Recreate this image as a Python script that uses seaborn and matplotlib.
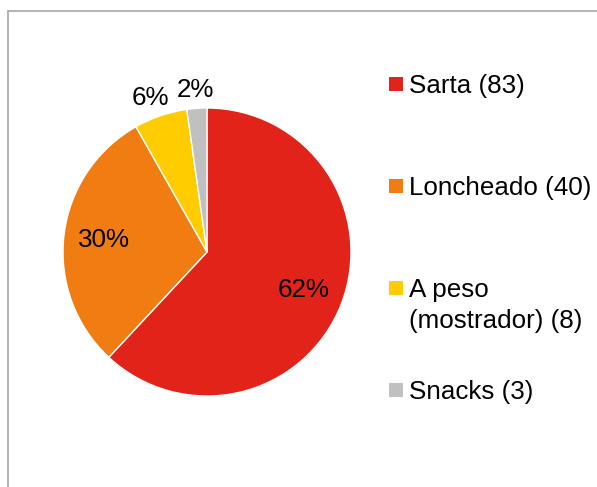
import numpy as np
import pandas as pd
import seaborn as sns
import matplotlib.pyplot as plt
from matplotlib.lines import Line2D

# Data
categories = ["Sarta", "Loncheado", "A peso\n(mostrador)", "Snacks"]
counts = [83, 40, 8, 3]
colors = ["#E2231A", "#F07C12", "#FFCC00", "#C0C0C0"]

sns.set_style("white")
plt.rcParams['font.family'] = ['Liberation Sans', 'DejaVu Sans']
FS = 18.7

W, H = 597, 487
fig = plt.figure(figsize=(W / 100, H / 100), dpi=100)

# Pie axes: centre (207, 252) px, radius 144 px
cx, cy, r = 207, 252, 144
ax = fig.add_axes([(cx - r) / W, (H - cy - r) / H, 2 * r / W, 2 * r / H])
wedges, _, autotexts = ax.pie(counts, colors=colors, startangle=90, counterclock=False,
                              autopct='%.0f%%', pctdistance=0.72,
                              textprops={'fontsize': FS, 'color': 'black'})
# small slices get their label outside
total = sum(counts)
for w, t, c in zip(wedges, autotexts, counts):
    if c / total < 0.1:
        ang = np.deg2rad((w.theta1 + w.theta2) / 2)
        t.set_position((1.13 * np.cos(ang), 1.13 * np.sin(ang)))
        if np.cos(ang) < -0.2:
            t.set_ha('right')
            t.set_position((1.13 * np.cos(ang) + 0.1, 1.13 * np.sin(ang)))
ax.set_xlim(-1, 1)
ax.set_ylim(-1, 1)
ax.axis('off')

# Overlay axes in pixel coordinates for legend and frame
ov = fig.add_axes([0, 0, 1, 1], zorder=-1)

# chart frame (left and top edges visible)
fig.add_artist(Line2D([8 / W, 8 / W], [0, 1 - 11 / H], color="#A6A6A6", lw=1.2))
fig.add_artist(Line2D([8 / W, 1], [1 - 11 / H, 1 - 11 / H], color="#A6A6A6", lw=1.2))

# legend
leg_y = [84 + 102 * i for i in range(len(categories))]
legend_df = pd.DataFrame({"x": [396] * len(categories), "y": leg_y, "cat": categories})
sns.scatterplot(data=legend_df, x="x", y="y", hue="cat", palette=colors, marker='s',
                s=95, linewidth=0, legend=False, ax=ov)
ov.set_xlim(0, W)
ov.set_ylim(H, 0)
ov.axis('off')
for y, name, c in zip(leg_y, categories, counts):
    lines = f"{name} ({c})".split("\n")
    for i, line in enumerate(lines):
        ov.text(409, y + 9 + 31 * i, line, fontsize=FS, va='baseline', ha='left', color='black')

fig.savefig("out.png", dpi=100)
